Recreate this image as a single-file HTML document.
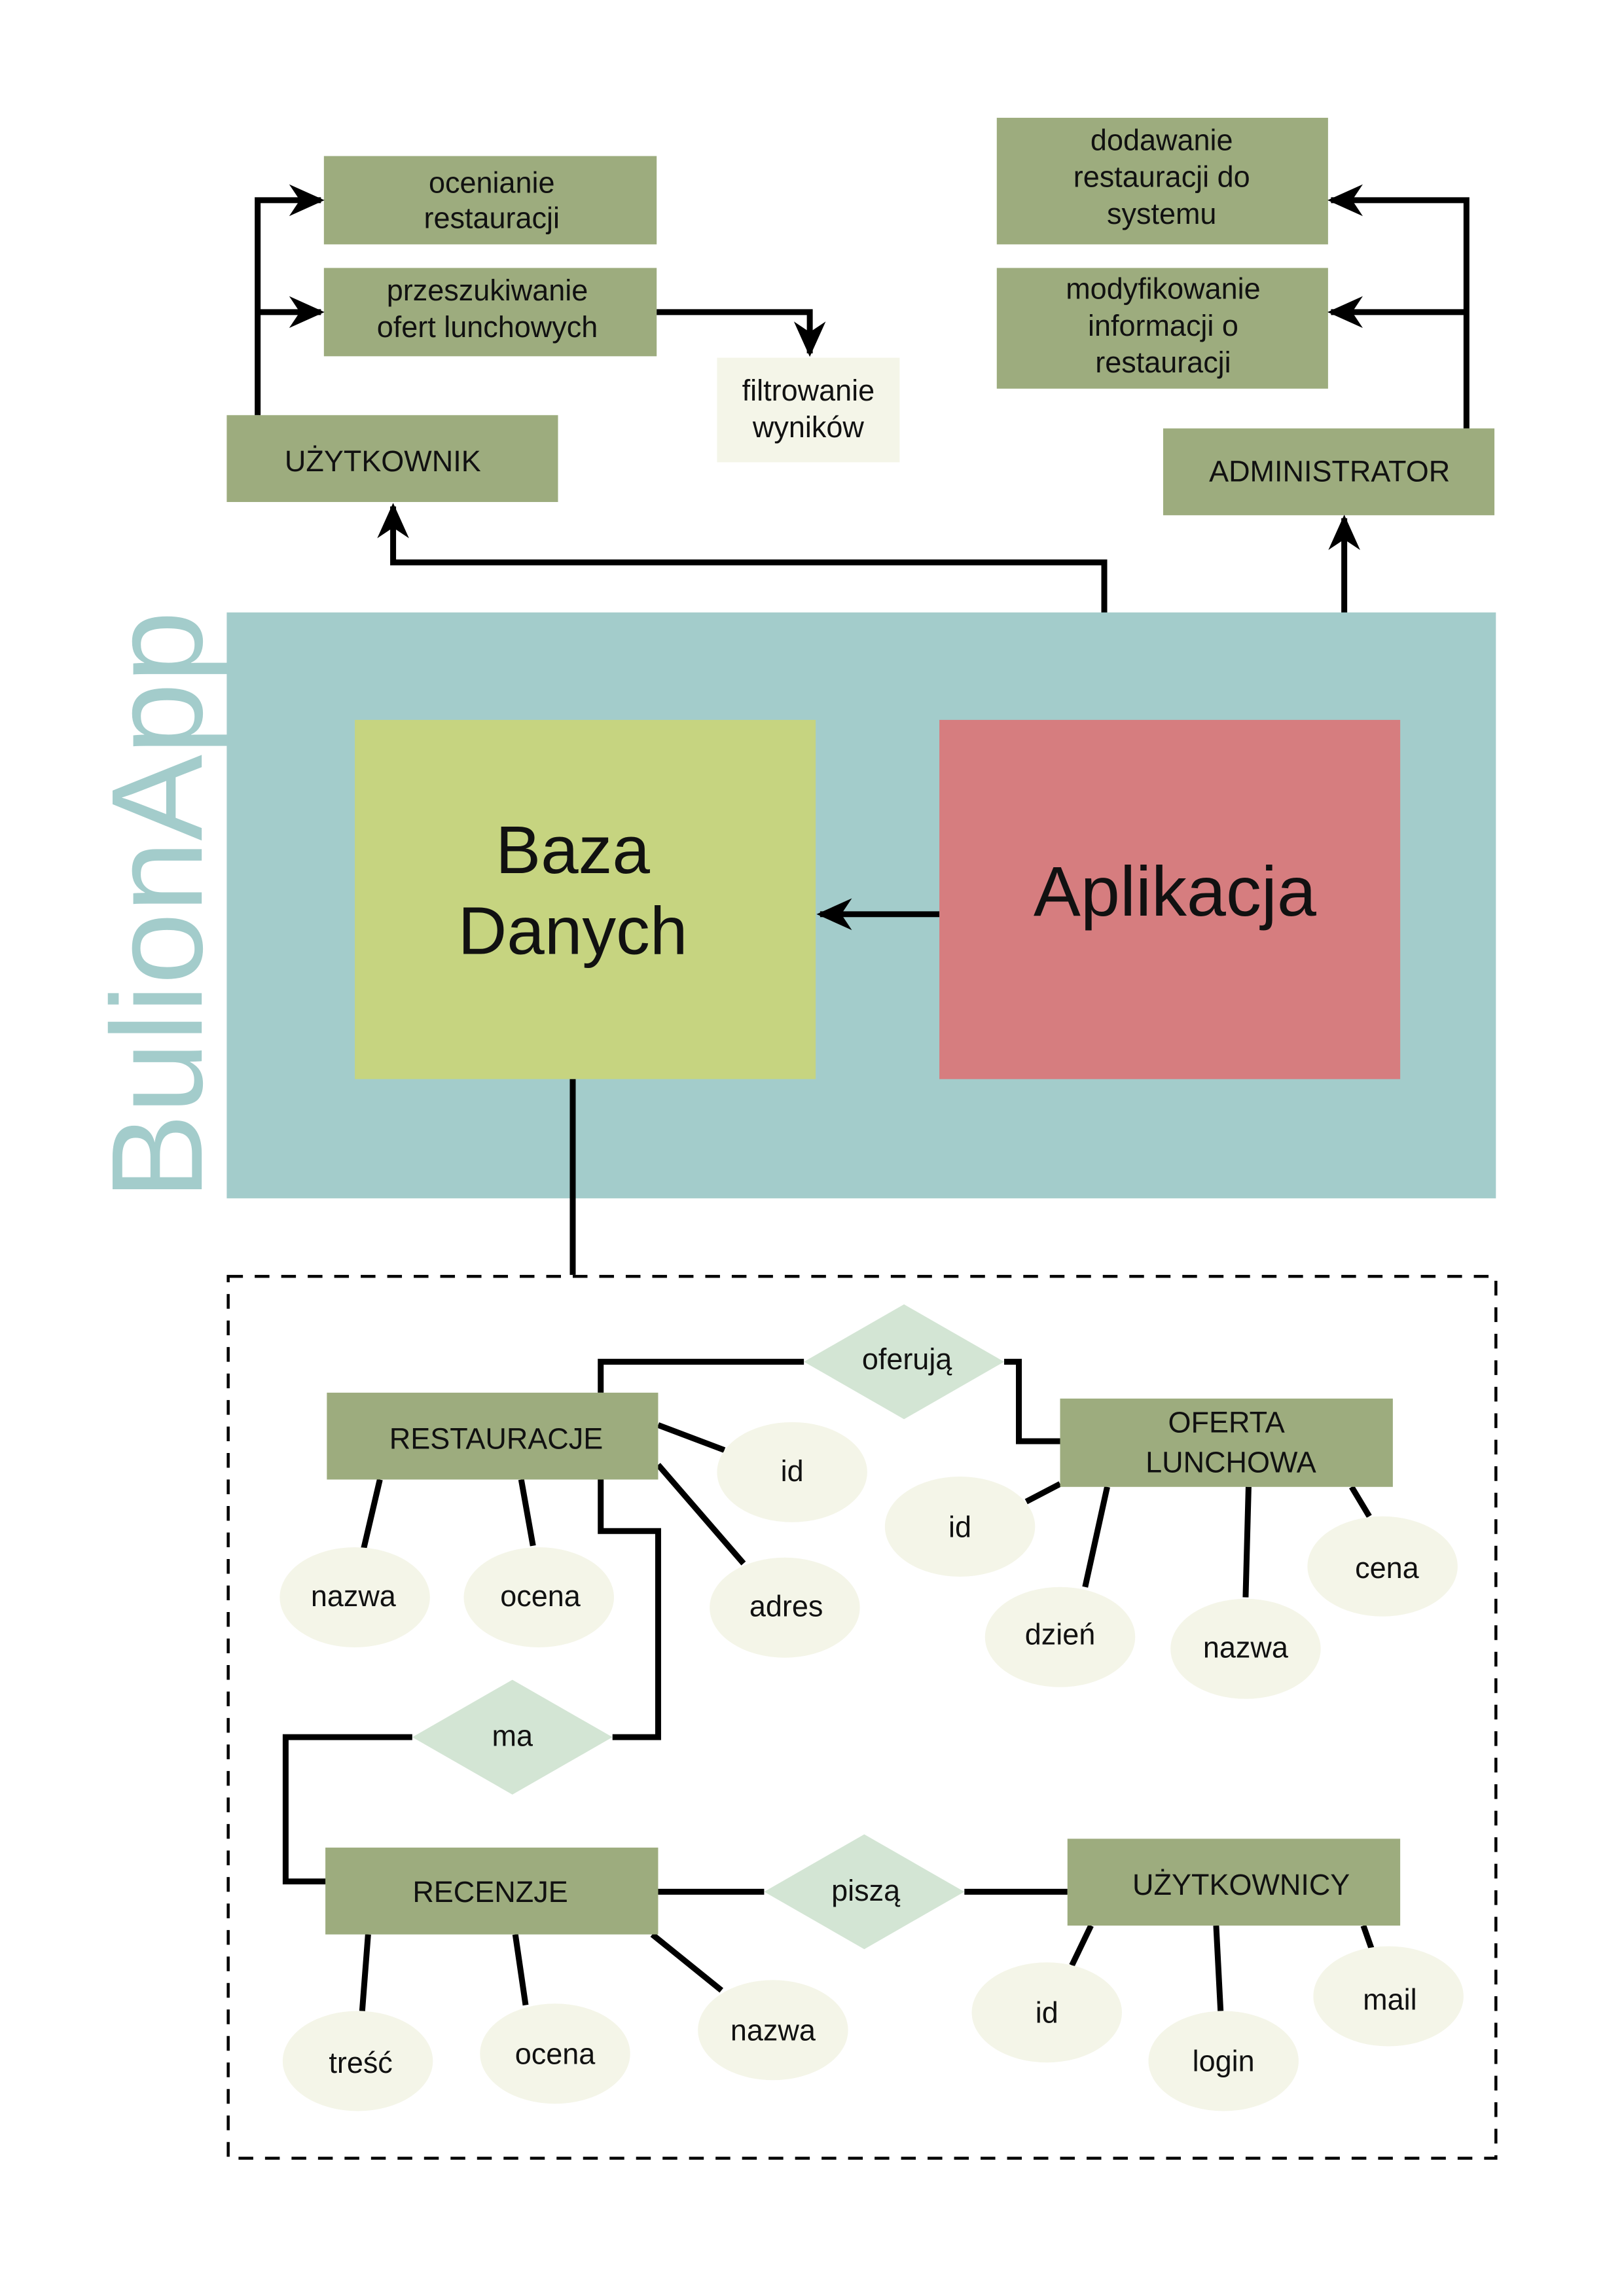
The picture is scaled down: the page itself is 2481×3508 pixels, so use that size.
<!DOCTYPE html>
<html><head><meta charset="utf-8"><style>
html,body{margin:0;padding:0;background:#fff;}
svg{display:block;}
text{font-family:"Liberation Sans",sans-serif;fill:#111;text-anchor:middle;}
</style></head><body>
<svg width="2481" height="3508" viewBox="0 0 1103 1559.6" preserveAspectRatio="none" xmlns="http://www.w3.org/2000/svg">
<defs>
<marker id="ah" markerUnits="userSpaceOnUse" markerWidth="24" markerHeight="24" viewBox="0 0 20 20" refX="18" refY="10" orient="auto">
<path d="M0,1 L20,10 L0,19 L6,10 Z" fill="#000"/>
</marker>
</defs>
<rect width="1103" height="1560" fill="#fff"/>

<!-- top boxes -->
<g fill="#9dac7e">
<rect x="220" y="106" width="226" height="60"/>
<rect x="220" y="182" width="226" height="60"/>
<rect x="154" y="282" width="225" height="59"/>
<rect x="677" y="80" width="225" height="86"/>
<rect x="677" y="182" width="225" height="82"/>
<rect x="790" y="291" width="225" height="59"/>
</g>
<rect x="487" y="243" width="124" height="71" fill="#f4f5e8"/>

<g font-size="20">
<text x="334" y="131">ocenianie</text><text x="334" y="155">restauracji</text>
<text x="331" y="204">przeszukiwanie</text><text x="331" y="229">ofert lunchowych</text>
<text x="549" y="272">filtrowanie</text><text x="549" y="297">wyników</text>
<text x="260" y="320">UŻYTKOWNIK</text>
<text x="789" y="102">dodawanie</text><text x="789" y="127">restauracji do</text><text x="789" y="152">systemu</text>
<text x="790" y="203">modyfikowanie</text><text x="790" y="228">informacji o</text><text x="790" y="253">restauracji</text>
<text x="903" y="327">ADMINISTRATOR</text>
</g>

<g fill="none" stroke="#000" stroke-width="4">
<path d="M175,282 V136 H218" marker-end="url(#ah)"/>
<path d="M175,212 H218" marker-end="url(#ah)"/>
<path d="M446,212 H550 V240" marker-end="url(#ah)"/>
<path d="M996,291 V136 H904" marker-end="url(#ah)"/>
<path d="M996,212 H904" marker-end="url(#ah)"/>
<path d="M750,489 V382 H267 V344" marker-end="url(#ah)"/>
<path d="M913,489 V352" marker-end="url(#ah)"/>
</g>

<!-- teal area -->
<rect x="154" y="416" width="862" height="398" fill="#a3cccb"/>
<text transform="translate(137,815) rotate(-90)" x="0" y="0" font-size="88" style="text-anchor:start;fill:#a3cccb" textLength="400" lengthAdjust="spacingAndGlyphs">BulionApp</text>
<rect x="241" y="489" width="313" height="244" fill="#c6d480"/>
<rect x="638" y="489" width="313" height="244" fill="#d67d7f"/>
<text x="389" y="593" font-size="46">Baza</text>
<text x="389" y="648" font-size="46">Danych</text>
<text x="798" y="622" font-size="48">Aplikacja</text>
<path d="M638,621 H557" stroke="#000" stroke-width="4" fill="none" marker-end="url(#ah)"/>
<path d="M389,733 V866" stroke="#000" stroke-width="4"/>

<!-- dashed -->
<rect x="155" y="867" width="861" height="599" fill="none" stroke="#000" stroke-width="2" stroke-dasharray="10,8"/>

<!-- ER lines -->
<g fill="none" stroke="#000" stroke-width="4">
<path d="M408,946 V925 H546"/>
<path d="M682,925 H692 V979 H720"/>
<path d="M447,968 L492,985"/>
<path d="M447,995 L505,1062"/>
<path d="M258,1005 L247,1052"/>
<path d="M354,1005 L362,1050"/>
<path d="M408,1005 V1040 H447 V1180 H416"/>
<path d="M280,1180 H194 V1278 H222"/>
<path d="M447,1285 H519"/>
<path d="M655,1285 H725"/>
<path d="M250,1314 L246,1366"/>
<path d="M350,1314 L357,1362"/>
<path d="M443,1314 L490,1352"/>
<path d="M741,1308 L728,1335"/>
<path d="M826,1308 L829,1366"/>
<path d="M926,1308 L932,1325"/>
<path d="M720,1008 L697,1020"/>
<path d="M752,1010 L737,1078"/>
<path d="M848,1010 L846,1085"/>
<path d="M918,1010 L930,1030"/>
</g>

<g fill="#9dac7e">
<rect x="222" y="946" width="225" height="59"/>
<rect x="720" y="950" width="226" height="60"/>
<rect x="221" y="1255" width="226" height="59"/>
<rect x="725" y="1249" width="226" height="59"/>
</g>
<g fill="#d3e5d4">
<polygon points="546,925 614,886 682,925 614,964"/>
<polygon points="280,1180 348,1141 416,1180 348,1219"/>
<polygon points="519,1285 587,1246 655,1285 587,1324"/>
</g>
<g fill="#f4f5e8">
<ellipse cx="538" cy="1000" rx="51" ry="34"/>
<ellipse cx="533" cy="1092" rx="51" ry="34"/>
<ellipse cx="241" cy="1085" rx="51" ry="34"/>
<ellipse cx="366" cy="1085" rx="51" ry="34"/>
<ellipse cx="652" cy="1037" rx="51" ry="34"/>
<ellipse cx="720" cy="1112" rx="51" ry="34"/>
<ellipse cx="846" cy="1120" rx="51" ry="34"/>
<ellipse cx="939" cy="1064" rx="51" ry="34"/>
<ellipse cx="243" cy="1400" rx="51" ry="34"/>
<ellipse cx="377" cy="1395" rx="51" ry="34"/>
<ellipse cx="525" cy="1379" rx="51" ry="34"/>
<ellipse cx="711" cy="1367" rx="51" ry="34"/>
<ellipse cx="831" cy="1400" rx="51" ry="34"/>
<ellipse cx="943" cy="1356" rx="51" ry="34"/>
</g>
<g font-size="20">
<text x="337" y="984">RESTAURACJE</text>
<text x="833" y="973">OFERTA</text><text x="836" y="1000">LUNCHOWA</text>
<text x="333" y="1292">RECENZJE</text>
<text x="843" y="1287">UŻYTKOWNICY</text>
<text x="616" y="930">oferują</text>
<text x="348" y="1186">ma</text>
<text x="588" y="1291">piszą</text>
<text x="538" y="1006">id</text>
<text x="534" y="1098">adres</text>
<text x="240" y="1091">nazwa</text>
<text x="367" y="1091">ocena</text>
<text x="652" y="1044">id</text>
<text x="720" y="1117">dzień</text>
<text x="846" y="1126">nazwa</text>
<text x="942" y="1072">cena</text>
<text x="245" y="1408">treść</text>
<text x="377" y="1402">ocena</text>
<text x="525" y="1386">nazwa</text>
<text x="711" y="1374">id</text>
<text x="831" y="1407">login</text>
<text x="944" y="1365">mail</text>
</g>
</svg>
</body></html>
